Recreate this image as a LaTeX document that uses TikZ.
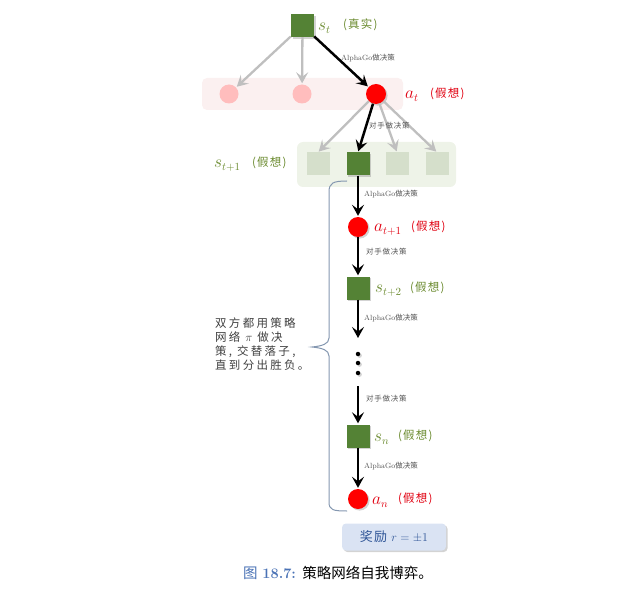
\documentclass[tikz,border=0pt]{standalone}
\usepackage{fontspec}
\usetikzlibrary{shadows,arrows.meta}
\newfontfamily\cjk{Noto Sans CJK SC}
\newfontfamily\cjkls[LetterSpace=10]{Noto Sans CJK SC}
\newfontfamily\cjkwide[LetterSpace=20]{Noto Sans CJK SC}
\definecolor{sqgreen}{HTML}{548235}
\definecolor{sqlight}{HTML}{D5DFCB}
\definecolor{dotpink}{HTML}{FFBDBD}
\definecolor{bandpink}{HTML}{FBF0F0}
\definecolor{bandgreen}{HTML}{EEF3E8}
\definecolor{lblgreen}{HTML}{6A8A2E}
\definecolor{lblred}{HTML}{E00010}
\definecolor{arrgray}{HTML}{BFBFBF}
\definecolor{bracecol}{HTML}{8497B0}
\definecolor{rewfill}{HTML}{DAE3F3}
\definecolor{rewtext}{HTML}{2F5597}
\definecolor{capblue}{HTML}{4A72B5}
\definecolor{smallgray}{HTML}{555555}
\definecolor{lefttext}{HTML}{404040}
\tikzset{
  shad/.style={drop shadow={opacity=.35, shadow xshift=1.6pt, shadow yshift=-1.6pt}},
  gsq/.style={rectangle, fill=sqgreen, minimum size=23, inner sep=0, shad},
  lsq/.style={rectangle, fill=sqlight, minimum size=23, inner sep=0},
  rdot/.style={circle, fill=red, minimum size=20, inner sep=0, shad},
  pdot/.style={circle, fill=dotpink, minimum size=19, inner sep=0},
  blackarr/.style={line width=2.5, -{Stealth[length=11, width=12, inset=4.5]}, shorten >=1},
  grayarr/.style={line width=2.3, draw=arrgray, -{Stealth[length=11, width=12, inset=4.5]}, shorten >=1},
  glbl/.style={anchor=west, text=lblgreen, inner sep=0, font=\fontsize{16}{16}\selectfont},
  rlbl/.style={anchor=west, text=lblred, inner sep=0, font=\fontsize{16}{16}\selectfont},
  gtag/.style={anchor=west, text=lblgreen, inner sep=0, font=\fontsize{11.5}{11.5}\cjkls},
  rtag/.style={anchor=west, text=lblred, inner sep=0, font=\fontsize{11.5}{11.5}\cjkls},
  tiny/.style={anchor=west, text=smallgray, inner sep=0, font=\fontsize{7.5}{7.5}\selectfont}
}
\begin{document}
\begin{tikzpicture}[x=1pt,y=-1pt]
\useasboundingbox (0,0) rectangle (617,593);
% bands
\fill[bandpink, rounded corners=5] (202,78) rectangle (403,110);
\fill[bandgreen, rounded corners=6] (297,142) rectangle (456,187);
% top node
\node[gsq] (st) at (302.5,25.5) {};
\node[glbl] (stl) at (318,28) {$s_t$};
\node[gtag] (stt) at (343,25) {(真实)};
% level a_t
\node[pdot] (p1) at (229,94) {};
\node[pdot] (p2) at (302,94) {};
\node[rdot] (at) at (376,94) {};
\node[rlbl] (atl) at (405,96) {$a_t$};
\node[rtag] (att) at (430,94) {(假想)};
\draw[grayarr] (st) -- (p1);
\draw[grayarr] (st) -- (p2);
\draw[blackarr] (st) -- (at);
\node[tiny] (l1) at (341,58) {AlphaGo{\cjk 做决策}};
% level s_{t+1}
\node[lsq] (q1) at (318,164) {};
\node[gsq] (s1) at (358,164) {};
\node[lsq] (q3) at (397,164) {};
\node[lsq] (q4) at (437,164) {};
\node[glbl] (s1l) at (214,166) {$s_{t+1}$};
\node[gtag] (s1t) at (252,163) {(假想)};
\draw[grayarr] (at) -- (q1.north);
\draw[grayarr] (at) -- (q3.north);
\draw[grayarr] (at) -- (q4.north);
\draw[blackarr] (at) -- (s1.north);
\node[tiny] (l2) at (369,126) {\cjkls 对手做决策};
% chain
\node[rdot] (a1) at (358,227) {};
\node[rlbl] (a1l) at (374,230) {$a_{t+1}$};
\node[rtag] (a1t) at (411,227) {(假想)};
\node[gsq] (s2) at (358,288) {};
\node[glbl] (s2l) at (375,291) {$s_{t+2}$};
\node[gtag] (s2t) at (410,288) {(假想)};
\coordinate (d0) at (358,338);
\node[circle, fill=black, minimum size=4.5, inner sep=0, shad] (dt1) at (358,354) {};
\node[circle, fill=black, minimum size=4.5, inner sep=0, shad] (dt2) at (358,363) {};
\node[circle, fill=black, minimum size=4.5, inner sep=0, shad] (dt3) at (358,373) {};
\coordinate (d1) at (358,386);
\node[gsq] (sn) at (358,436) {};
\node[glbl] (snl) at (374,439) {$s_n$};
\node[gtag] (snt) at (398,436) {(假想)};
\node[rdot] (an) at (358,499) {};
\node[rlbl] (anl) at (372,502) {$a_n$};
\node[rtag] (ant) at (398,499) {(假想)};
\draw[blackarr] (s1) -- (a1);
\draw[blackarr] (a1) -- (s2);
\draw[blackarr, shorten >=0] (s2) -- (d0);
\draw[blackarr] (d1) -- (sn);
\draw[blackarr] (sn) -- (an);
\node[tiny] (l3) at (364,194) {AlphaGo{\cjk 做决策}};
\node[tiny] (l4) at (366,252) {\cjkls 对手做决策};
\node[tiny] (l5) at (364,318) {AlphaGo{\cjk 做决策}};
\node[tiny] (l6) at (366,399) {\cjkls 对手做决策};
\node[tiny] (l7) at (364,466) {AlphaGo{\cjk 做决策}};
% brace
\draw[bracecol, line width=1] (347,181) .. controls (333,181) and (329,183) .. (329,192)
  -- (329,338) .. controls (329,344) and (322,346) .. (312,347)
  .. controls (322,348) and (329,350) .. (329,356)
  -- (329,502) .. controls (329,510) and (333,511) .. (347,511);
\node[anchor=west, text=lefttext, align=left, inner sep=0,
  font=\fontsize{11.5}{14}\cjkwide] (txt) at (215,344)
  {双方都用策略\\网络 $\pi$ 做决\\策, 交替落子,\\直到分出胜负。};
% reward
\node[rectangle, rounded corners=4, fill=rewfill, minimum width=104, minimum height=27, shad,
  text=rewtext, font=\fontsize{13}{13}\cjkls] (rew) at (394,537) {奖励 $r=\pm1$};
% caption
\node[inner sep=0, font=\fontsize{14.5}{14.5}\selectfont] (cap) at (338,573)
  {{\color{capblue}\cjk 图} {\color{capblue}\bfseries 18.7:} {\cjk 策略网络自我博弈。}};
\end{tikzpicture}
\end{document}
